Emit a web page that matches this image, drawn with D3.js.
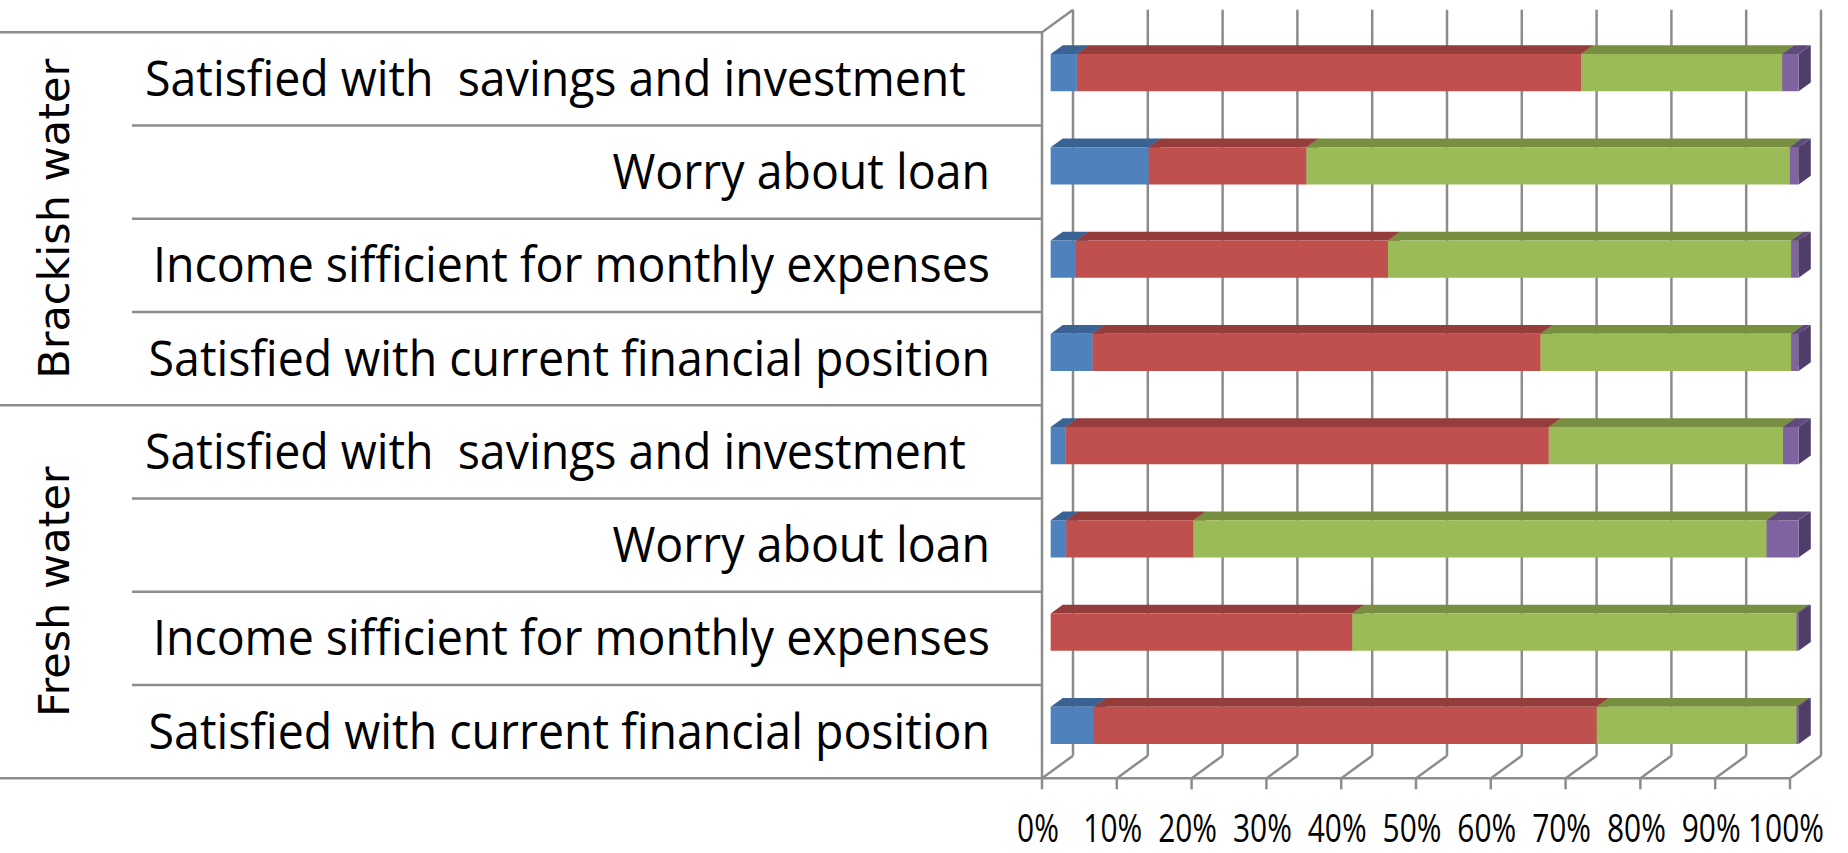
<!DOCTYPE html>
<html>
<head>
<meta charset="utf-8">
<script src="https://cdn.jsdelivr.net/npm/d3@7"></script>
<style>
body{margin:0;background:#fff;}
svg{display:block;}
</style>
</head>
<body>
<div id="chart"></div>
<script>
// row groups and item labels (top to bottom)
const groups=["Brackish water","Fresh water"];
const items=["Satisfied with  savings and investment  ","Worry about loan","Income sifficient for monthly expenses","Satisfied with current financial position"];

// percentages per row, top to bottom (Brackish x4, Fresh x4)
const series1=[3.5,13.1,3.4,5.6,2.0,2.1,0,5.8];
const series2=[67.4,21.1,41.7,59.9,64.6,17.0,40.3,67.2];
const series3=[26.9,64.6,53.9,33.5,31.3,76.6,59.4,26.7];
const series4=[2.2,1.2,1.0,1.0,2.1,4.3,0.3,0.3];

const tickValues=[0,10,20,30,40,50,60,70,80,90,100];
const tickLabels=["0%","10%","20%","30%","40%","50%","60%","70%","80%","90%","100%"];

const w=1848,h=853;
const plotLeft=1042,plotRight=1790,plotTop=32.3,plotBottom=778.3;
const depthX=31,depthY=-22.6;
const zFront=0.28,zBack=0.67;
const gridColor="#8c8c8c";

// front, top, side colours per series
const colors=[
  {front:"#4f81bd",top:"#3a6393",side:"#345985"},
  {front:"#c0504d",top:"#953d3b",side:"#863735"},
  {front:"#9bbb59",top:"#788f42",side:"#6c813b"},
  {front:"#8064a2",top:"#5f4a7c",side:"#4f3e6a"}
];
const allSeries=[series1,series2,series3,series4];

const rows=groups.flatMap(g=>items.map(it=>({group:g,item:it})));
const proj=(x,y,z)=>[x+z*depthX,y+z*depthY];

const xScale=d3.scaleLinear().domain([0,100]).range([plotLeft,plotRight]);
const rowScale=d3.scaleBand().domain(d3.range(rows.length)).range([plotTop,plotBottom]);
const barScale=d3.scaleBand().domain(d3.range(rows.length)).range([plotTop,plotBottom]).paddingInner(0.6).paddingOuter(0.3);

const svg=d3.select("#chart").append("svg").attr("width",w).attr("height",h);
const line=d3.line();

// back wall gridlines
svg.append("g").selectAll("path")
   .data(tickValues)
   .enter()
   .append("path")
   .attr("d",t=>line([proj(xScale(t),plotTop,1),proj(xScale(t),plotBottom,1)]))
   .attr("stroke",gridColor).attr("stroke-width",2.5).attr("fill","none");

// floor lines
svg.append("g").selectAll("path")
   .data(tickValues)
   .enter()
   .append("path")
   .attr("d",t=>line([[xScale(t),plotBottom+11],[xScale(t),plotBottom],proj(xScale(t),plotBottom,1)]))
   .attr("stroke",gridColor).attr("stroke-width",2.5).attr("fill","none");
svg.append("path")
   .attr("d",line([[plotLeft,plotBottom],[plotRight,plotBottom]]))
   .attr("stroke",gridColor).attr("stroke-width",2.5);

// side wall
svg.append("path")
   .attr("d",line([[plotLeft,plotBottom],[plotLeft,plotTop],proj(plotLeft,plotTop,1)]))
   .attr("stroke",gridColor).attr("stroke-width",2.5).attr("fill","none");

// row separators
const sepY=d3.range(rows.length+1);
svg.append("g").selectAll("path")
   .data(sepY)
   .enter()
   .append("path")
   .attr("d",k=>{
     const y=k<rows.length?rowScale(k):plotBottom;
     return line([[k%items.length===0?0:132,y],[plotLeft,y]]);
   })
   .attr("stroke",gridColor).attr("stroke-width",2.5);

// bars
const barG=svg.append("g");
rows.forEach((r,i)=>{
  let cum=0;
  const yt=barScale(i),yb=yt+barScale.bandwidth();
  allSeries.forEach((s,si)=>{
    const v=s[i];
    if(v<=0) return;
    const xa=xScale(cum),xb=xScale(cum+v);
    cum+=v;
    const c=colors[si];
    barG.append("polygon")
        .attr("points",[proj(xb,yt,zFront),proj(xb,yt,zBack),proj(xb,yb,zBack),proj(xb,yb,zFront)].join(" "))
        .attr("fill",c.side);
    barG.append("polygon")
        .attr("points",[proj(xa,yt,zFront),proj(xb,yt,zFront),proj(xb,yt,zBack),proj(xa,yt,zBack)].join(" "))
        .attr("fill",c.top);
    barG.append("polygon")
        .attr("points",[proj(xa,yt,zFront),proj(xb,yt,zFront),proj(xb,yb,zFront),proj(xa,yb,zFront)].join(" "))
        .attr("fill",c.front);
  });
});

// category labels
const catLabels=svg.append("g").selectAll("text")
   .data(rows)
   .enter()
   .append("text")
   .text(d=>d.item)
   .attr("x",0).attr("y",0)
   .attr("text-anchor","end")
   .style("white-space","pre")
   .attr("font-family","'Open Sans', sans-serif")
   .attr("font-size",49)
   .attr("fill","#000");
let longest=0;
catLabels.each(function(){longest=Math.max(longest,this.getComputedTextLength());});
const catScale=845/longest;
catLabels.attr("transform",(d,i)=>`translate(990,${rowScale(i)+rowScale.bandwidth()/2+17}) scale(${catScale},1)`);

// group labels
svg.append("g").selectAll("text")
   .data(groups)
   .enter()
   .append("text")
   .text(d=>d)
   .attr("text-anchor","middle")
   .attr("font-family","'DejaVu Sans', Verdana, sans-serif")
   .attr("font-size",43)
   .attr("fill","#000")
   .attr("transform",(d,gi)=>{
     const y0=rowScale(gi*items.length);
     const y1=(gi+1)*items.length<rows.length?rowScale((gi+1)*items.length):plotBottom;
     return `translate(69,${(y0+y1)/2}) rotate(-90)`;
   });

// x axis labels
const tickText=svg.append("g").selectAll("text")
   .data(tickValues)
   .enter()
   .append("text")
   .text((d,i)=>tickLabels[i])
   .attr("text-anchor","middle")
   .attr("font-family","'Open Sans', sans-serif")
   .attr("font-size",38)
   .attr("fill","#000");
let tickW=0;
tickText.each(function(){tickW=Math.max(tickW,this.getComputedTextLength());});
const tickScale=76/tickW;
tickText.attr("transform",d=>`translate(${xScale(d)-4},842) scale(${tickScale},1)`);
</script>
</body>
</html>
